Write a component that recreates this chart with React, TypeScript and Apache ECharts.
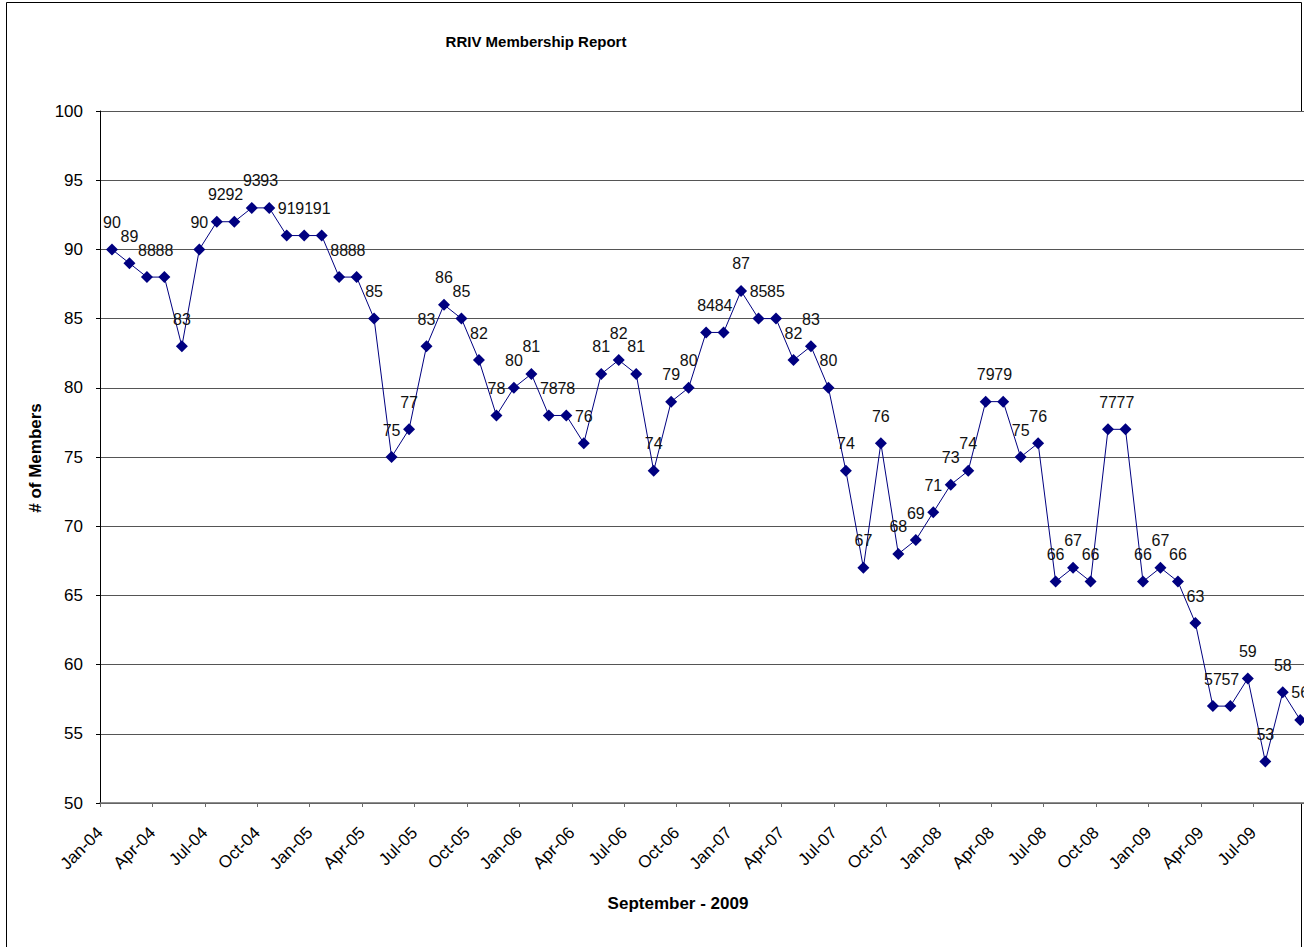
import React, { useEffect, useRef } from "react";
import * as echarts from "echarts";

// ---- data ----
const MONTHS = ["Jan", "Feb", "Mar", "Apr", "May", "Jun", "Jul", "Aug", "Sep", "Oct", "Nov", "Dec"];
const START_YEAR = 2004; // first month on the axis: Jan-04
const POINT_OFFSET = 0.685; // monthly readings sit about three weeks into each month
const members = [
  90, 89, 88, 88, 83, 90, 92, 92, 93, 93, 91, 91, 91, 88, 88, 85, 75, 77, 83, 86, 85, 82, 78, 80,
  81, 78, 78, 76, 81, 82, 81, 74, 79, 80, 84, 84, 87, 85, 85, 82, 83, 80, 74, 67, 76, 68, 69, 71,
  73, 74, 79, 79, 75, 76, 66, 67, 66, 77, 77, 66, 67, 66, 63, 57, 57, 59, 53, 58, 56,
];
const Y_MIN = 50;
const Y_MAX = 100;
const Y_STEP = 5;
const X_LABEL_STEP = 3;
const X_MAX = 68.9;

const TITLE = "RRIV Membership Report";
const X_NAME = "September - 2009";
const Y_NAME = "# of Members";

const FONT = 'Arial, "Liberation Sans", sans-serif';

function monthLabel(idx: number): string {
  const m = ((idx % 12) + 12) % 12;
  const y = START_YEAR + Math.floor(idx / 12);
  return MONTHS[m] + "-" + String(y % 100).padStart(2, "0");
}

export default function App() {
  const ref = useRef<HTMLDivElement>(null);

  useEffect(() => {
    if (!ref.current) return;
    const chart = echarts.init(ref.current, null, { renderer: "svg" });
    const data = members.map((v, i) => [i + POINT_OFFSET, v]);

    chart.setOption({
      animation: false,
      backgroundColor: "#ffffff",
      textStyle: { fontFamily: FONT },
      grid: { left: 100, top: 111, width: 1206.8, height: 692, containLabel: false },
      xAxis: {
        type: "value",
        min: 0,
        max: X_MAX,
        interval: X_LABEL_STEP,
        axisLine: { show: true, onZero: false, lineStyle: { color: "#6a6a6a", width: 1.5 } },
        axisTick: { show: true, length: 4, lineStyle: { color: "#6a6a6a" } },
        splitLine: { show: false },
        axisLabel: {
          rotate: 45,
          margin: 27,
          fontSize: 17,
          color: "#000",
          fontFamily: FONT,
          showMaxLabel: false,
          formatter: (v: number) =>
            Math.abs(v % X_LABEL_STEP) < 1e-6 ? monthLabel(Math.round(v)) : "",
        },
      },
      yAxis: {
        type: "value",
        min: Y_MIN,
        max: Y_MAX,
        interval: Y_STEP,
        axisLine: { show: true, lineStyle: { color: "#000", width: 1 } },
        axisTick: { show: true, length: 4, lineStyle: { color: "#000" } },
        axisLabel: { margin: 17, fontSize: 17, color: "#000", fontFamily: FONT },
        splitLine: { show: true, lineStyle: { color: "#555555", width: 1 } },
      },
      series: [
        {
          type: "line",
          data,
          symbol: "diamond",
          symbolSize: 12,
          lineStyle: { color: "#000080", width: 1 },
          itemStyle: { color: "#000080" },
          label: {
            show: true,
            position: "top",
            distance: 13,
            fontSize: 16,
            color: "#111",
            fontFamily: FONT,
            formatter: (p: any) => String(p.value[1]),
          },
          emphasis: { disabled: true },
        },
      ],
      graphic: [
        {
          type: "polyline",
          silent: true,
          shape: { points: [[1301.5, 111], [1301.5, 2.5], [6.5, 2.5], [6.5, 947]] },
          style: { stroke: "#000", lineWidth: 1, fill: null },
        },
        {
          type: "line",
          silent: true,
          shape: { x1: 1301.5, y1: 803, x2: 1301.5, y2: 947 },
          style: { stroke: "#000", lineWidth: 1 },
        },
        {
          type: "text",
          x: 536,
          y: 41,
          style: {
            text: TITLE,
            font: "bold 15px " + FONT,
            fill: "#000",
            textAlign: "center",
            textVerticalAlign: "middle",
          },
        },
        {
          type: "text",
          x: 678,
          y: 903,
          style: {
            text: X_NAME,
            font: "bold 17px " + FONT,
            fill: "#000",
            textAlign: "center",
            textVerticalAlign: "middle",
          },
        },
        {
          type: "text",
          x: 35,
          y: 458,
          rotation: Math.PI / 2,
          style: {
            text: Y_NAME,
            font: "bold 17px " + FONT,
            fill: "#000",
            textAlign: "center",
            textVerticalAlign: "middle",
          },
        },
      ],
    });

    return () => chart.dispose();
  }, []);

  return (
    <div
      style={{
        position: "fixed",
        left: 0,
        top: 0,
        width: 1304,
        height: 947,
        overflow: "hidden",
        background: "#fff",
      }}
    >
      <div ref={ref} style={{ width: 1304, height: 947 }} />
    </div>
  );
}
